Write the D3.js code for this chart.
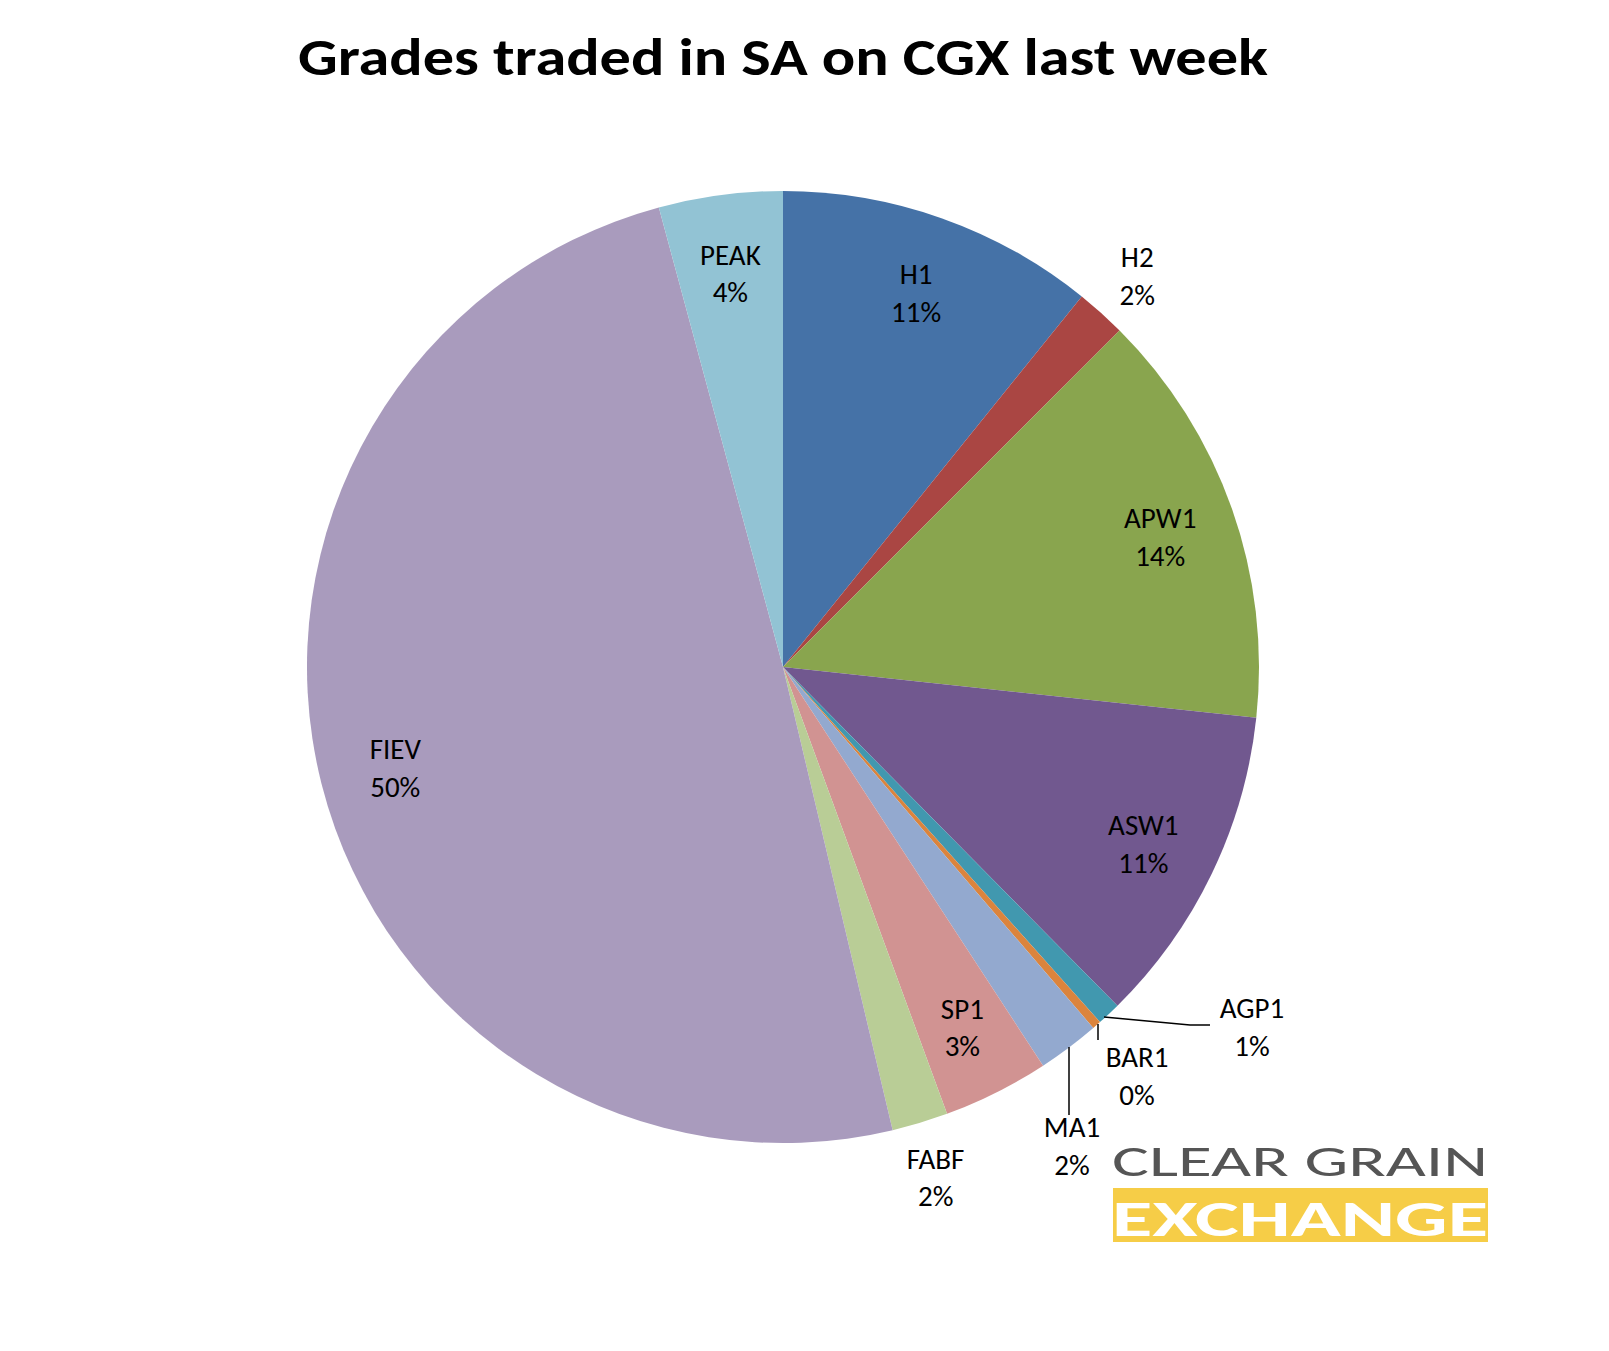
<!DOCTYPE html>
<html>
<head>
<meta charset="utf-8">
<script src="https://cdn.jsdelivr.net/npm/d3@7"></script>
<style>
  body { margin: 0; background: #fff; }
  text { font-family: Carlito, "Open Sans", "Noto Sans", sans-serif; }
</style>
</head>
<body>
<svg id="chart" width="1609" height="1351"></svg>
<script>
// data van de taart
var grades = ["H1", "H2", "APW1", "ASW1", "AGP1", "BAR1", "MA1", "SP1", "FABF", "FIEV", "PEAK"]
var shares = [10.8, 1.7, 14.2, 10.9, 0.8, 0.3, 2.1, 3.6, 1.9, 49.5, 4.2]
var labels = ["11%", "2%", "14%", "11%", "1%", "0%", "2%", "3%", "2%", "50%", "4%"]
var colors = ["#4572a7", "#aa4643", "#89a54e", "#71588f", "#4198af", "#db843d",
              "#93a9cf", "#d19392", "#b9cd96", "#a99bbd", "#92c3d4"]

var cx = 783, cy = 667, radius = 476

var svg = d3.select("#chart")

svg.append("text")
  .attr("x", 783).attr("y", 75)
  .attr("text-anchor", "middle")
  .attr("font-size", 52).attr("font-weight", "bold")
  .attr("textLength", 970).attr("lengthAdjust", "spacingAndGlyphs")
  .text("Grades traded in SA on CGX last week")

var g = svg.append("g").attr("transform", "translate(" + cx + "," + cy + ")")

var pie = d3.pie().sort(null).value(function(d) { return d })
var arcs = pie(shares)

var arc = d3.arc().innerRadius(0).outerRadius(radius)
var labelArc = d3.arc().innerRadius(400).outerRadius(400)
var outerArc = d3.arc().innerRadius(530).outerRadius(530)

g.selectAll("path").data(arcs).enter().append("path")
  .attr("d", arc)
  .attr("fill", function(d, i) { return colors[i] })

// labels met leader lines (AGP1, BAR1, MA1)
var leaders = {
  4: {text: [1252, 1024], line: [[1104, 1017], [1190, 1025], [1210, 1025]]},
  5: {text: [1137, 1073], line: [[1098, 1024], [1098, 1040]]},
  6: {text: [1072, 1143], line: [[1069, 1047], [1069, 1115]]}
}

arcs.forEach(function(d, i) {
  var pos
  if (leaders[i]) {
    pos = [leaders[i].text[0] - cx, leaders[i].text[1] - cy]
    svg.append("path")
      .attr("d", d3.line()(leaders[i].line))
      .attr("fill", "none").attr("stroke", "#000").attr("stroke-width", 1.5)
  } else if (i === 1 || i === 8) {
    pos = outerArc.centroid(d)
  } else {
    pos = labelArc.centroid(d)
  }
  var t = g.append("text")
    .attr("text-anchor", "middle")
    .attr("font-size", 29)
    .attr("transform", "translate(" + pos[0] + "," + pos[1] + ")")
  t.append("tspan").attr("x", 0).attr("dy", "-0.2em").text(grades[i])
  t.append("tspan").attr("x", 0).attr("dy", "1.3em").text(labels[i])
})

// logo
svg.append("text")
  .attr("x", 1112).attr("y", 1176)
  .attr("font-size", 44).attr("fill", "#555")
  .attr("font-family", "Roboto, sans-serif")
  .attr("textLength", 376).attr("lengthAdjust", "spacingAndGlyphs")
  .text("CLEAR GRAIN")
svg.append("rect")
  .attr("x", 1113).attr("y", 1188).attr("width", 375).attr("height", 54)
  .attr("fill", "#f6cd47")
svg.append("text")
  .attr("x", 1112).attr("y", 1236)
  .attr("font-size", 50).attr("font-weight", "bold").attr("fill", "#fff")
  .attr("font-family", "Roboto, sans-serif")
  .attr("textLength", 376).attr("lengthAdjust", "spacingAndGlyphs")
  .text("EXCHANGE")
</script>
</body>
</html>
